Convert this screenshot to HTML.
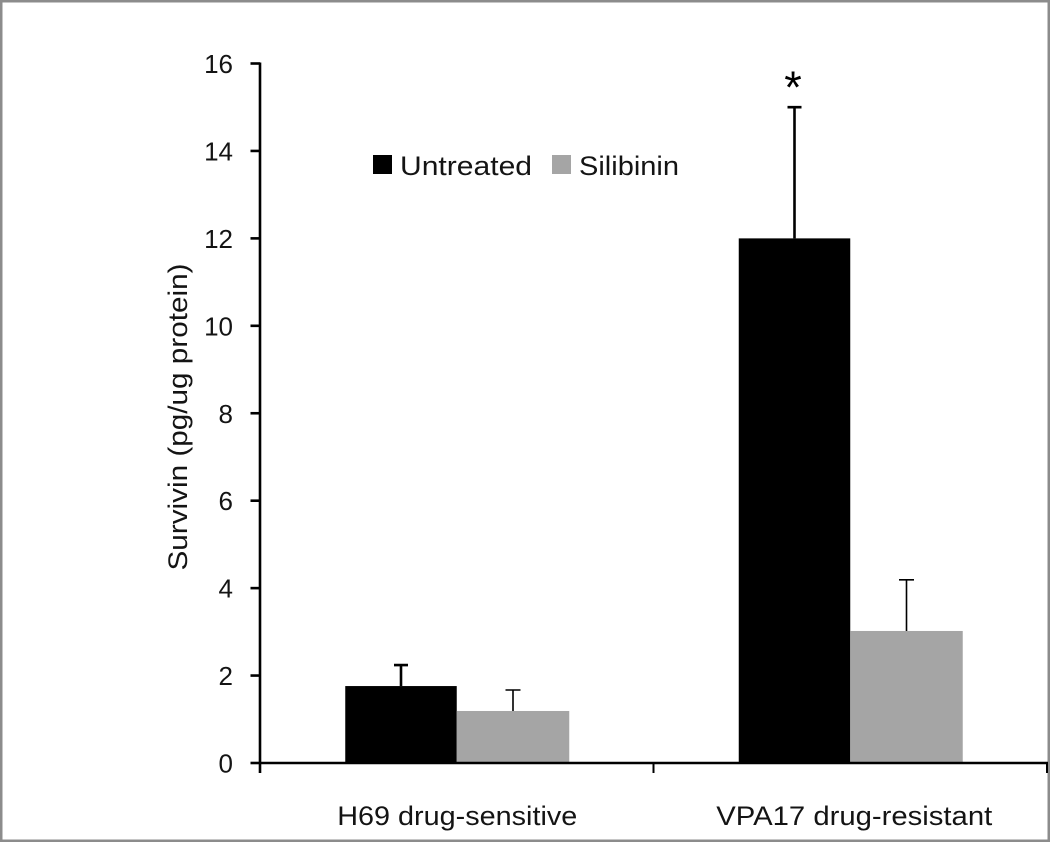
<!DOCTYPE html>
<html>
<head>
<meta charset="utf-8">
<title>Survivin chart</title>
<style>
html,body{margin:0;padding:0;background:#fff;width:1050px;height:842px;overflow:hidden}
svg{display:block}
text{font-family:"Liberation Sans",sans-serif;fill:#141414}
</style>
</head>
<body>
<svg id="chart" width="1050" height="842" viewBox="0 0 1050 842" xmlns="http://www.w3.org/2000/svg">
  <rect x="1.25" y="1.25" width="1047.5" height="839.5" fill="#fff" stroke="#8c8c8c" stroke-width="2.5"/>
  <g id="bars"></g>
  <g id="errors"></g>
  <g id="axes"></g>
  <text transform="translate(187,417) rotate(-90)" text-anchor="middle" font-size="27" textLength="307" lengthAdjust="spacingAndGlyphs">Survivin (pg/ug protein)</text>
  <text x="793" y="103" text-anchor="middle" font-size="45" style="fill:#000">*</text>
  <g>
    <rect x="373" y="155" width="19" height="19" fill="#000"/>
    <text x="400" y="175" font-size="27" textLength="132" lengthAdjust="spacingAndGlyphs">Untreated</text>
    <rect x="552" y="155" width="19" height="19" fill="#a5a5a5"/>
    <text x="579" y="175" font-size="27" textLength="100" lengthAdjust="spacingAndGlyphs">Silibinin</text>
  </g>
</svg>
<script>
const categories = ["H69 drug-sensitive", "VPA17 drug-resistant"];
const untreatedValues = [1.76, 12.0];
const silibininValues = [1.19, 3.02];
const untreatedErrors = [0.48, 3.0];
const silibininErrors = [0.48, 1.17];
const yTickLabels = [0, 2, 4, 6, 8, 10, 12, 14, 16];

const NS = "http://www.w3.org/2000/svg";
const plotLeft = 260, plotRight = 1047, plotBottom = 763, plotTop = 63.5, yMax = 16;
const barWidth = 111.5;
const yScale = v => plotBottom - (v / yMax) * (plotBottom - plotTop);
const bandWidth = (plotRight - plotLeft) / categories.length;
const bandCenter = i => plotLeft + bandWidth * (i + 0.5);

function make(parent, tag, attrs) {
  const el = document.createElementNS(NS, tag);
  for (const k in attrs) el.setAttribute(k, attrs[k]);
  parent.appendChild(el);
  return el;
}

const barsG = document.getElementById("bars");
const errG = document.getElementById("errors");
const axesG = document.getElementById("axes");

categories.forEach((cat, i) => {
  const c = bandCenter(i);

  const uTop = yScale(untreatedValues[i]);
  const uBar = make(barsG, "rect", {x: c - barWidth, y: uTop, width: barWidth, height: plotBottom - uTop, fill: "#000"});
  
  

  const sTop = yScale(silibininValues[i]);
  const sBar = make(barsG, "rect", {x: c, y: sTop, width: barWidth + 1, height: plotBottom - sTop, fill: "#a5a5a5"});
  
  

  const ux = c - barWidth / 2;
  const uErrTop = yScale(untreatedValues[i] + untreatedErrors[i]);
  const uErr = make(errG, "path", {d: `M${ux} ${uTop}V${uErrTop}M${ux - 7} ${uErrTop}H${ux + 7}`, stroke: "#000", "stroke-width": 2.6, fill: "none"});
  
  

  const sx = c + barWidth / 2 + 0.5;
  const sErrTop = yScale(silibininValues[i] + silibininErrors[i]);
  const sErr = make(errG, "path", {d: `M${sx} ${sTop}V${sErrTop}M${sx - 7.5} ${sErrTop}H${sx + 7.5}`, stroke: "#000", "stroke-width": 1.6, fill: "none"});
  
  

  const lab = make(axesG, "text", {x: c + (i === 0 ? 0.5 : 4), y: 825, "text-anchor": "middle", "font-size": 27, textLength: i === 0 ? 240 : 276, lengthAdjust: "spacingAndGlyphs"});
  lab.textContent = cat;
  
  
});

const yAxis = make(axesG, "line", {x1: plotLeft, x2: plotLeft, y1: plotTop - 1, y2: plotBottom + 10, stroke: "#000", "stroke-width": 2.6});



const xAxis = make(axesG, "line", {x1: plotLeft, x2: plotRight + 1, y1: plotBottom, y2: plotBottom, stroke: "#000", "stroke-width": 2.6});



yTickLabels.forEach(v => {
  const y = yScale(v);
  const tick = make(axesG, "line", {x1: plotLeft - 9.5, x2: plotLeft, y1: y, y2: y, stroke: "#000", "stroke-width": 2.6});
  
  
  const t = make(axesG, "text", {x: 233, y: y + 9.5, "text-anchor": "end", "font-size": 26});
  t.textContent = v;
  
  
});

for (let i = 0; i <= categories.length; i++) {
  const x = plotLeft + bandWidth * i;
  const tick = make(axesG, "line", {x1: x, x2: x, y1: plotBottom, y2: plotBottom + 10, stroke: "#000", "stroke-width": 2});
  
  
}
</script>
</body>
</html>
